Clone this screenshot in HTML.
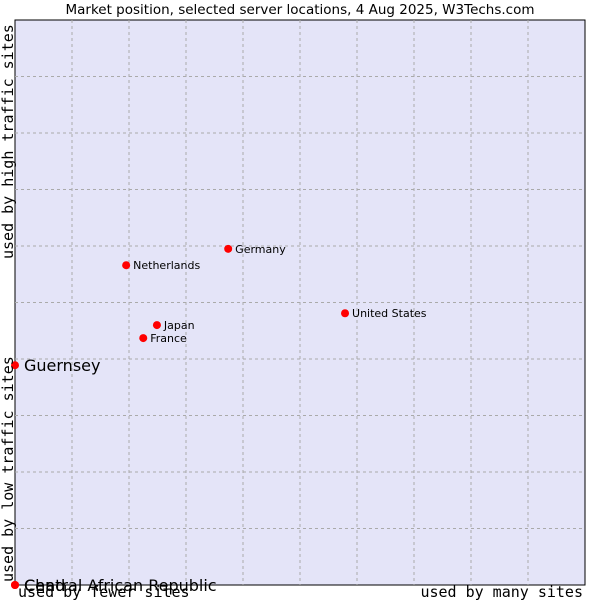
<!DOCTYPE html>
<html><head><meta charset="utf-8"><style>
body{margin:0;background:#fff;width:600px;height:600px;overflow:hidden}
svg{display:block}
</style></head><body>
<svg id="chart" width="600" height="600" xmlns="http://www.w3.org/2000/svg">
<text x="300" y="14" text-anchor="middle" font-family="DejaVu Sans, sans-serif" font-size="13.5">Market position, selected server locations, 4 Aug 2025, W3Techs.com</text>
<rect x="15" y="20" width="570" height="565" fill="#e4e4f8" stroke="#000" stroke-width="1"/>
<g id="grid"></g>
<g id="pts"></g>
<text transform="translate(13,259) rotate(-90)" font-family="DejaVu Sans Mono, Liberation Mono, monospace" font-size="15">used by high traffic sites</text>
<text transform="translate(13,582) rotate(-90)" font-family="DejaVu Sans Mono, Liberation Mono, monospace" font-size="15">used by low traffic sites</text>
<text x="18" y="597" font-family="DejaVu Sans Mono, Liberation Mono, monospace" font-size="15">used by fewer sites</text>
<text x="583" y="597" text-anchor="end" font-family="DejaVu Sans Mono, Liberation Mono, monospace" font-size="15">used by many sites</text>
</svg>
<script>
const names=["Germany","Netherlands","United States","Japan","France","Guernsey","Chad","Central African Republic"];
const xVals=[37.4,19.5,57.9,24.9,22.5,0,0,0];
const yVals=[59.5,56.6,48.1,46.0,43.7,38.9,0,0];
const bigLabel=[false,false,false,false,false,true,true,true];
const NS="http://www.w3.org/2000/svg";
const X=v=>15+v*5.7, Y=v=>585-v*5.65;
const grid=document.getElementById('grid');
for(let i=1;i<10;i++){
  const l=document.createElementNS(NS,'line');
  
  
  l.setAttribute('x1',X(i*10));l.setAttribute('x2',X(i*10));l.setAttribute('y1',20);l.setAttribute('y2',585);
  l.setAttribute('stroke','#aaa');l.setAttribute('stroke-dasharray','3,3');grid.appendChild(l);
  const h=document.createElementNS(NS,'line');
  
  
  h.setAttribute('x1',15);h.setAttribute('x2',585);h.setAttribute('y1',Y(i*10));h.setAttribute('y2',Y(i*10));
  h.setAttribute('stroke','#aaa');h.setAttribute('stroke-dasharray','3,3');grid.appendChild(h);
}
const pts=document.getElementById('pts');
names.forEach((n,i)=>{
  const x=X(xVals[i]),y=Y(yVals[i]);
  const c=document.createElementNS(NS,'circle');
  
  
  c.setAttribute('cx',x);c.setAttribute('cy',y);c.setAttribute('r',4);c.setAttribute('fill','#f00');
  pts.appendChild(c);
  const t=document.createElementNS(NS,'text');
  
  
  t.setAttribute('x',x+(bigLabel[i]?9:7));t.setAttribute('y',y+(bigLabel[i]?6:4));
  t.setAttribute('font-family','DejaVu Sans, sans-serif');
  t.setAttribute('font-size',bigLabel[i]?16:11);
  t.textContent=n;pts.appendChild(t);
});
</script>
</body></html>
